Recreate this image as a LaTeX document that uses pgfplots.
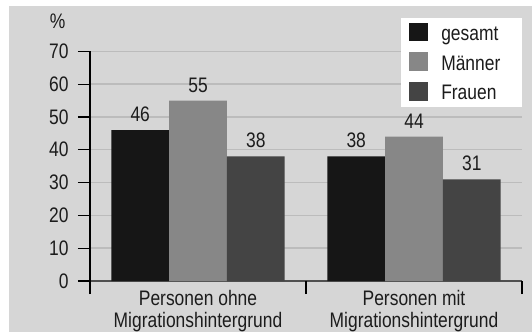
\documentclass[border=0pt]{standalone}
\usepackage{fontspec}
\setmainfont{Liberation Sans}[FakeStretch=0.83]
\usepackage{pgfplots}
\pgfplotsset{compat=1.18}
\definecolor{bg}{HTML}{D6D6D6}
\definecolor{gridc}{HTML}{BCBCBC}
\definecolor{cA}{HTML}{161616}
\definecolor{cB}{HTML}{878787}
\definecolor{cC}{HTML}{444444}
\definecolor{xl}{HTML}{505050}
\definecolor{txt}{HTML}{1C1C1C}
\newcommand\f{\fontsize{21bp}{21.5bp}\selectfont}
\begin{document}
\begin{tikzpicture}[x=1bp,y=1bp]
\useasboundingbox (0,0) rectangle (532,332);
\fill[white] (0,0) rectangle (532,332);
\fill[bg] (8.5,0) rectangle (532,326);
\begin{axis}[
  at={(90bp,51bp)}, anchor=south west,
  scale only axis, width=432bp, height=229.7bp,
  xmin=-0.5, xmax=1.5, ymin=0, ymax=70,
  axis x line=bottom, axis y line=left,
  axis line style={-},
  x axis line style={draw=xl, line width=1.3bp},
  y axis line style={draw=black, line width=1.2bp},
  ytick={0,10,...,70},
  tick align=outside,
  major tick length=12bp,
  y tick style={draw=black, line width=1.2bp},
  ymajorgrids,
  grid style={draw=gridc, line width=1.5bp},
  xtick={0,1},
  xticklabels={{Personen ohne\\Migrationshintergrund},{Personen mit\\Migrationshintergrund}},
  major x tick style={draw=none},
  extra x ticks={-0.5,0.5,1.5},
  extra x tick labels={},
  extra x tick style={major x tick style={draw=black, line width=1.2bp}, major tick length=13bp},
  xticklabel style={align=center, font=\f, text=txt, yshift=6bp},
  yticklabel style={font=\f, text=txt, xshift=-6bp},
  /pgf/number format/assume math mode=true,
  ybar=0pt, bar width=0.2676,
  nodes near coords,
  every node near coord/.append style={font=\f, text=txt, inner sep=0pt, anchor=south, yshift=8bp},
  legend image code/.code={\fill[#1] (0bp,-7.5bp) rectangle (19bp,11bp);},
  legend style={at={(0.72,1.148)}, anchor=north west, draw=none, fill=white,
    inner xsep=8bp, inner ysep=5bp, font=\f, text=txt, row sep=9.5bp,
    nodes={inner sep=0pt, text height=16bp, text depth=2.5bp},
    /tikz/every odd column/.append style={column sep=13bp},
    cells={anchor=west}},
]
\addplot[fill=cA, draw=none] coordinates {(0,46) (1,38)};
\addlegendentry{\makebox[73bp][l]{gesamt}}
\addplot[fill=cB, draw=none] coordinates {(0,55) (1,44)};
\addlegendentry{\makebox[73bp][l]{Männer}}
\addplot[fill=cC, draw=none] coordinates {(0,38) (1,31)};
\addlegendentry{\makebox[73bp][l]{Frauen}}
\end{axis}
\node[font=\f, text=txt] at (57.5,311) {\%};
\end{tikzpicture}
\end{document}
